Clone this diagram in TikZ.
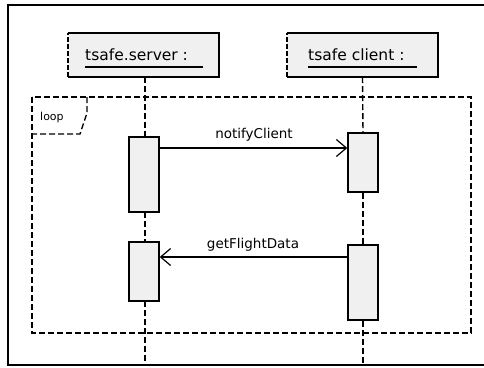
\documentclass[tikz,border=0pt]{standalone}
\usepackage{fontspec}
\setmainfont{DejaVu Sans}
\usetikzlibrary{arrows.meta}
\begin{document}
\begin{tikzpicture}[x=1pt,y=-1pt,
  boxfill/.style={fill=black!6},
  partbox/.style={boxfill,draw=none,minimum width=151pt,minimum height=44pt,inner sep=0pt},
  actbox/.style={boxfill,draw,line width=1.4pt,minimum width=30pt,inner sep=0pt},
  lifeline/.style={line width=1.4pt,dash pattern=on 6pt off 3pt},
  framedash/.style={line width=1.4pt,dash pattern=on 6pt off 3pt},
  partname/.style={font=\fontsize{15.5}{18}\selectfont,inner sep=0pt,anchor=base west},
  msglabel/.style={font=\fontsize{13.5}{16}\selectfont,inner sep=0pt,anchor=base},
  msg/.style={line width=1.2pt,-{Straight Barb[length=10pt,width=17pt,line width=1.2pt]}}
]
\useasboundingbox (0,0) rectangle (484,367);
\fill[white] (0,0) rectangle (484,367);

% outer diagram frame, open on the right
\draw[line width=1.6pt] (484,5) -- (8,5) -- (8,365) -- (484,365);

% participants
\node[partbox] (srv) at (143.5,55) {};
\node[partbox] (cli) at (362.5,55) {};
\foreach \p in {srv,cli}{
  \draw[line width=1.5pt] (\p.north west) -- (\p.north east) -- (\p.south east) -- (\p.south west);
  \draw[line width=1.5pt,dash pattern=on 5pt off 2pt] (\p.south west) -- (\p.north west);
}
\node[partname] (srvname) at (85,60) {tsafe.server :};
\node[partname] (cliname) at (308,60) {tsafe client :};
\draw[line width=1.4pt] (85,67) -- (203,67);
\draw[line width=1.4pt] (308,67) -- (417,67);

% lifeline ends on the bottom frame line
\coordinate (srvend) at (145,365);
\coordinate (cliend) at (363,365);

% activation bars
\node[actbox,minimum height=75pt] (s1) at (144,174.5) {};
\node[actbox,minimum height=59pt] (c1) at (363,162.5) {};
\node[actbox,minimum height=59pt] (s2) at (144,271.5) {};
\node[actbox,minimum height=75pt] (c2) at (363,282.5) {};

% lifelines
\draw[lifeline] (145,77) -- (145,137);
\draw[lifeline] (145,212) -- (145,242);
\draw[lifeline] (145,301) -- (srvend);
\draw[lifeline] (cli.south) -- (c1.north);
\draw[lifeline] (c1.south) -- (c2.north);
\draw[lifeline] (c2.south) -- (cliend);

% loop fragment
\draw[framedash] (32,97) rectangle (471,333);
\draw[framedash] (87,97) -- (87,113) -- (80,134) -- (32,134);
\node[font=\fontsize{11}{13}\selectfont,inner sep=0pt,anchor=base west] (looplbl) at (40,120) {loop};

% messages
\draw[msg] (s1.east |- 0,148) -- (c1.west |- 0,148);
\node[msglabel] (m1) at (254,138) {notifyClient};
\draw[msg] (c2.west |- 0,257) -- (s2.east |- 0,257);
\node[msglabel] (m2) at (253,248) {getFlightData};
\end{tikzpicture}
\end{document}
